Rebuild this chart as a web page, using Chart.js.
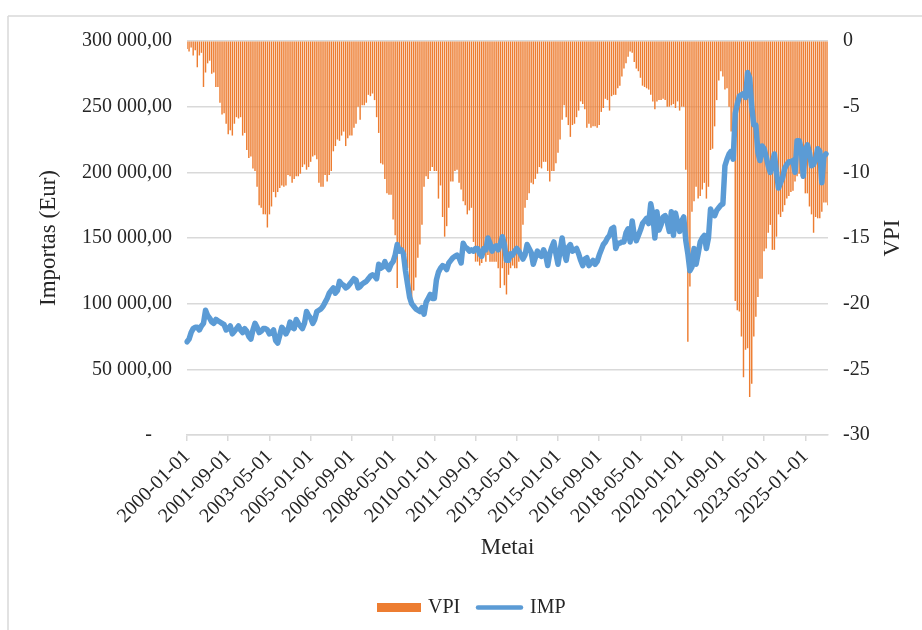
<!DOCTYPE html>
<html>
<head>
<meta charset="utf-8">
<script src="https://cdn.jsdelivr.net/npm/chart.js@4.4.1/dist/chart.umd.min.js"></script>
<style>
html,body{margin:0;padding:0;background:#ffffff;}
#wrap{width:922px;height:630px;position:relative;}
</style>
</head>
<body>
<div id="wrap"><canvas id="c" width="922" height="630"></canvas></div>
<script>
// ---- data ----
const firstYear = 2000;
const monthCount = 312; // 2000-01 .. 2025-12
const categories = [];
for (let i = 0; i < monthCount; i++) {
  const y = firstYear + Math.floor(i / 12);
  const m = (i % 12) + 1;
  categories.push(y + '-' + (m < 10 ? '0' + m : m) + '-01');
}
const tickLabels = ['2000-01-01','2001-09-01','2003-05-01','2005-01-01','2006-09-01','2008-05-01',
  '2010-01-01','2011-09-01','2013-05-01','2015-01-01','2016-09-01','2018-05-01','2020-01-01',
  '2021-09-01','2023-05-01','2025-01-01'];

const vpiLabel = 'VPI';
const vpi = [
  -0.6,-0.8,-0.5,-1.1,-0.7,-2.0,-1.1,-0.9,-3.5,-2.4,-1.7,-1.5,
  -2.5,-2.4,-3.5,-3.5,-4.7,-5.6,-5.5,-6.3,-7.1,-6.8,-7.2,-6.3,
  -5.8,-5.9,-5.8,-7.2,-7.0,-8.3,-8.9,-8.8,-9.7,-9.9,-11.1,-12.5,
  -12.7,-13.2,-13.2,-14.2,-13.2,-12.6,-11.5,-11.9,-11.5,-11.2,-11.0,-11.1,
  -11.0,-10.2,-10.3,-10.8,-10.5,-10.3,-10.3,-10.1,-9.6,-9.4,-9.8,-9.6,
  -9.2,-8.8,-8.7,-9.0,-10.8,-11.1,-11.1,-10.2,-10.7,-10.2,-9.9,-8.4,
  -8.0,-7.5,-7.6,-7.2,-6.9,-8.0,-7.4,-7.2,-7.2,-6.6,-6.3,-5.0,
  -6.0,-4.9,-4.9,-4.7,-4.1,-4.2,-4.0,-4.5,-5.8,-7.0,-9.3,-9.4,
  -10.5,-11.6,-11.7,-11.7,-13.6,-14.8,-18.8,-15.8,-16.0,-16.8,-16.3,-17.3,
  -18.8,-19.6,-19.0,-18.0,-16.5,-15.5,-14.0,-11.1,-10.3,-10.5,-9.9,-9.6,
  -9.9,-9.9,-12.0,-11.0,-13.4,-14.9,-14.1,-12.7,-10.7,-10.7,-9.9,-9.8,
  -10.8,-11.3,-12.2,-12.5,-13.2,-12.9,-12.7,-15.3,-16.8,-16.8,-17.1,-16.9,
  -15.8,-16.8,-16.3,-16.8,-16.8,-16.8,-16.8,-17.3,-18.8,-17.3,-18.6,-19.3,
  -17.8,-17.3,-17.1,-17.3,-17.3,-16.8,-16.3,-14.0,-12.7,-12.1,-11.6,-10.8,
  -10.9,-10.5,-10.1,-9.6,-9.7,-9.2,-9.2,-9.9,-10.7,-9.9,-9.9,-9.3,
  -8.5,-7.5,-6.0,-4.9,-5.8,-6.4,-7.3,-6.4,-6.3,-5.8,-5.3,-4.6,
  -4.8,-5.2,-6.6,-6.3,-6.6,-6.5,-6.5,-6.6,-6.4,-5.4,-5.1,-4.4,
  -4.5,-5.3,-4.2,-4.1,-4.1,-3.6,-3.4,-2.7,-2.1,-1.7,-1.2,-0.8,
  -0.9,-1.6,-2.1,-2.3,-2.8,-3.4,-3.5,-3.6,-3.7,-4.1,-4.6,-5.2,
  -4.6,-4.5,-4.5,-4.4,-4.5,-5.0,-5.0,-4.9,-4.8,-5.1,-4.6,-5.3,
  -5.0,-5.0,-9.8,-22.9,-18.7,-13.0,-12.2,-11.1,-12.0,-11.8,-11.3,-10.8,
  -12.0,-11.1,-8.3,-8.2,-6.5,-4.5,-3.0,-2.3,-2.7,-3.7,-3.6,-5.0,
  -6.9,-7.7,-19.8,-20.5,-20.6,-22.5,-25.6,-23.5,-23.4,-27.1,-26.1,-22.5,
  -21.0,-19.5,-18.1,-18.1,-16.0,-15.8,-14.6,-14.0,-15.9,-15.9,-14.9,-13.2,
  -13.4,-13.0,-12.5,-12.0,-11.8,-11.5,-11.4,-10.7,-10.3,-10.1,-10.3,-10.5,
  -11.6,-11.6,-12.6,-13.2,-14.6,-13.4,-13.5,-13.5,-13.0,-12.3,-12.3,-12.5
];

const impLabel = 'IMP';
const imp = [
  71000,73000,78000,81000,82000,82000,80000,83000,85000,95000,91000,89000,
  86000,85000,88000,87000,86000,85000,84000,80000,81000,83000,77000,79000,
  81000,83000,80000,78000,81000,79000,75000,73000,80000,85000,82000,78000,
  79000,81000,81000,80000,77000,78000,80000,72000,70000,76000,82000,80000,
  77000,80000,86000,82000,81000,88000,85000,83000,81000,85000,94000,91000,
  89000,85000,88000,94000,95000,96000,98000,101000,104000,108000,110000,112000,
  108000,110000,117000,115000,114000,112000,113000,115000,117000,119000,118000,112000,
  113000,115000,116000,117000,119000,121000,122000,121000,119000,130000,127000,128000,
  132000,128000,126000,130000,132000,137000,145000,140000,141000,138000,125000,115000,
  105000,100000,98000,96000,95000,94000,97000,92000,101000,104000,107000,104000,
  104000,118000,124000,127000,129000,128000,126000,131000,133000,135000,136000,137000,
  135000,131000,146000,143000,142000,140000,141000,140000,142000,142000,138000,136000,
  142000,141000,150000,146000,140000,143000,144000,141000,145000,151000,145000,133000,
  133000,138000,137000,140000,142000,140000,137000,134000,137000,145000,142000,139000,
  130000,135000,140000,137000,136000,141000,137000,129000,138000,143000,147000,138000,
  130000,140000,150000,139000,133000,143000,145000,140000,141000,142000,138000,133000,
  129000,134000,135000,129000,131000,133000,130000,132000,137000,141000,145000,147000,
  150000,152000,157000,158000,142000,146000,146000,147000,147000,154000,157000,147000,
  163000,152000,148000,152000,156000,161000,163000,165000,161000,176000,168000,150000,
  170000,156000,160000,166000,167000,162000,155000,170000,152000,169000,162000,155000,
  163000,166000,148000,138000,125000,128000,142000,130000,138000,147000,150000,152000,
  142000,150000,172000,168000,167000,171000,173000,175000,176000,205000,210000,214000,
  216000,210000,245000,252000,258000,259000,260000,257000,276000,272000,250000,236000,
  236000,215000,209000,220000,218000,212000,205000,200000,207000,214000,200000,188000,
  192000,196000,203000,206000,208000,208000,209000,200000,224000,224000,218000,197000,
  217000,221000,215000,205000,206000,210000,218000,216000,192000,212000,214000
];

const leftTitle = 'Importas (Eur)';
const rightTitle = 'VPI';
const xTitle = 'Metai';

// ---- styles ----
const ORANGE = '#ED7D31';
const BLUE = '#5B9BD5';
const GRID = '#d9d9d9';
const TEXT = '#262626';
const FONT = '"Liberation Serif", "Times New Roman", serif';

function fmtEur(v) {
  if (v === 0) return '-    ';
  return String(v).replace(/\B(?=(\d{3})+(?!\d))/g, ' ') + ',00';
}
function isLabelled(i) {
  return tickLabels.includes(categories[i]);
}

const decorPlugin = {
  id: 'decor',
  beforeDraw(chart) {
    const ctx = chart.ctx;
    ctx.save();
    ctx.fillStyle = '#ffffff';
    ctx.fillRect(0, 0, chart.width, chart.height);
    ctx.strokeStyle = GRID;
    ctx.lineWidth = 1.5;
    ctx.beginPath();
    ctx.moveTo(8, 16); ctx.lineTo(chart.width, 16);
    ctx.moveTo(8, 16); ctx.lineTo(8, chart.height);
    ctx.stroke();
    ctx.restore();
  },
  afterDraw(chart) {
    const ctx = chart.ctx;
    const a = chart.chartArea;
    const midY = (a.top + a.bottom) / 2;
    ctx.save();
    ctx.fillStyle = TEXT;
    ctx.font = '23px ' + FONT;
    ctx.textAlign = 'center';
    ctx.textBaseline = 'middle';
    ctx.save();
    ctx.translate(49, midY);
    ctx.rotate(-Math.PI / 2);
    ctx.fillText(leftTitle, 0, 0);
    ctx.restore();
    ctx.save();
    ctx.translate(893, midY);
    ctx.rotate(-Math.PI / 2);
    ctx.fillText(rightTitle, 0, 0);
    ctx.restore();
    ctx.fillText(xTitle, (a.left + a.right) / 2, 548);
    // legend
    const ds = chart.data.datasets;
    const barDs = ds.find(d => d.type === 'bar');
    const lineDs = ds.find(d => d.type === 'line');
    ctx.font = '20px ' + FONT;
    ctx.textAlign = 'left';
    ctx.fillStyle = barDs.backgroundColor;
    ctx.fillRect(377, 603, 44, 9);
    ctx.fillStyle = TEXT;
    ctx.fillText(barDs.label, 428, 608);
    ctx.strokeStyle = lineDs.borderColor;
    ctx.lineWidth = 4.5;
    ctx.lineCap = 'round';
    ctx.beginPath();
    ctx.moveTo(478, 607.5); ctx.lineTo(521, 607.5);
    ctx.stroke();
    ctx.fillText(lineDs.label, 530, 608);
    ctx.restore();
  }
};

new Chart(document.getElementById('c'), {
  data: {
    labels: categories,
    datasets: [
      {
        type: 'line',
        label: impLabel,
        data: imp,
        yAxisID: 'y',
        borderColor: BLUE,
        backgroundColor: BLUE,
        borderWidth: 5.5,
        pointRadius: 0,
        tension: 0,
        borderCapStyle: 'round',
        borderJoinStyle: 'round',
        order: 0
      },
      {
        type: 'bar',
        label: vpiLabel,
        data: vpi,
        yAxisID: 'y1',
        backgroundColor: ORANGE,
        borderWidth: 0,
        barPercentage: 0.7,
        categoryPercentage: 1.0,
        order: 1
      }
    ]
  },
  options: {
    responsive: false,
    devicePixelRatio: 1,
    animation: false,
    layout: { padding: { top: 41, left: 0, right: 0, bottom: 0 } },
    plugins: { legend: { display: false }, tooltip: { enabled: false } },
    scales: {
      x: {
        type: 'category',
        offset: false,
        grid: {
          offset: false,
          drawOnChartArea: false,
          drawTicks: true,
          tickLength: 6,
          lineWidth: 1.5,
          color: c => isLabelled(c.index) ? GRID : 'rgba(0,0,0,0)'
        },
        border: { display: true, color: GRID, width: 1.5 },
        ticks: {
          autoSkip: false,
          maxRotation: 45,
          minRotation: 45,
          padding: 4,
          color: TEXT,
          font: { family: FONT, size: 20 },
          callback: function (val, i) {
            return isLabelled(i) ? categories[i] : '';
          }
        },
        afterFit: s => { s.height = 195; }
      },
      y: {
        position: 'left',
        min: 0,
        max: 300000,
        grid: { color: GRID, lineWidth: 1.5, drawTicks: false },
        border: { display: false },
        ticks: {
          stepSize: 50000,
          padding: 15,
          color: TEXT,
          font: { family: FONT, size: 20 },
          callback: v => fmtEur(v)
        },
        afterFit: s => { s.width = 187; }
      },
      y1: {
        position: 'right',
        min: -30,
        max: 0,
        grid: { drawOnChartArea: false, drawTicks: false },
        border: { display: false },
        ticks: {
          stepSize: 5,
          padding: 15,
          color: TEXT,
          font: { family: FONT, size: 20 }
        },
        afterFit: s => { s.width = 94; }
      }
    }
  },
  plugins: [decorPlugin]
});
</script>
</body>
</html>
